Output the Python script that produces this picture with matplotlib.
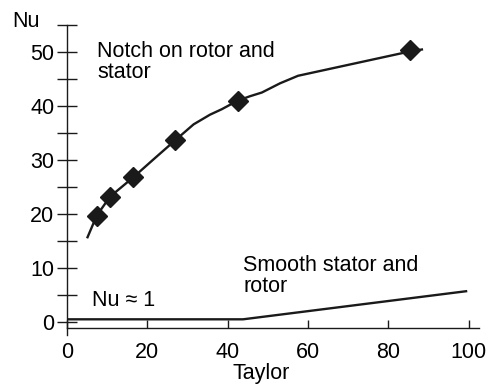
import matplotlib.pyplot as plt

plt.rcParams['font.family'] = ['Liberation Sans', 'DejaVu Sans']

# Notched rotor and stator: measured points
notchTaylor = [7.4, 10.7, 16.5, 27.0, 42.5, 85.3]
notchNu = [19.7, 23.2, 26.8, 33.7, 41.0, 50.4]

# Curve drawn through the measurements
curveTaylor = [5.0, 7.4, 10.7, 16.5, 21.8, 27.0, 31.5, 35.6, 38.5, 42.5, 45.5, 48.5, 53.0, 57.5, 85.3, 88.6]
curveNu = [15.5, 19.7, 23.2, 26.8, 30.3, 33.7, 36.6, 38.4, 39.4, 41.0, 41.8, 42.5, 44.2, 45.6, 50.1, 50.5]

# Smooth stator and rotor
smoothTaylor = [0.0, 43.8, 99.3]
smoothNu = [0.5, 0.5, 5.7]

xTicks = [0, 20, 40, 60, 80, 100]
yTicks = [0, 5, 10, 15, 20, 25, 30, 35, 40, 45, 50, 55]
yTickLabels = ['0', '', '10', '', '20', '', '30', '', '40', '', '50', '']

fs = 15.5
fig = plt.figure(figsize=(4.9, 3.86), dpi=100)
ax = fig.add_axes([0.1367, 0.1238, 0.853, 0.8394])
ax.set_xlim(0, 104)
ax.set_ylim(-3, 57)

lineColor = '#1a1a1a'
ax.plot(curveTaylor, curveNu, color=lineColor, lw=1.7, solid_capstyle='butt')
ax.plot(notchTaylor, notchNu, linestyle='none', marker='D', ms=10, color=lineColor)
ax.plot(smoothTaylor, smoothNu, color=lineColor, lw=1.7)

# Axes styling
for side in ['top', 'right']:
    ax.spines[side].set_visible(False)
ax.spines['bottom'].set_position(('data', -1.1))
ax.spines['bottom'].set_bounds(0, 102.5)
ax.spines['left'].set_bounds(-2.4, 55)
for side in ['left', 'bottom']:
    ax.spines[side].set_linewidth(1.0)
    ax.spines[side].set_color(lineColor)

ax.set_xticks(xTicks)
ax.set_yticks(yTicks)
ax.set_yticklabels(yTickLabels)
ax.tick_params(axis='y', direction='inout', length=14, width=1.0, pad=2, labelsize=fs, color=lineColor)
ax.tick_params(axis='x', direction='in', length=6, width=1.0, pad=10, labelsize=fs, color=lineColor)

ax.set_ylabel('Nu', rotation=0, fontsize=fs, ha='left', va='baseline')
ax.yaxis.set_label_coords(-0.1316, 0.96)
ax.set_xlabel('Taylor', fontsize=fs, ha='center', va='baseline')
ax.xaxis.set_label_coords(0.465, -0.125)

# Annotations (baseline = last line)
ax.text(7.5, 45.1, 'Notch on rotor and\nstator', fontsize=fs, ha='left', va='baseline', linespacing=1.0)
ax.text(6.2, 3.0, 'Nu \u2248 1', fontsize=fs, ha='left', va='baseline')
ax.text(43.8, 5.55, 'Smooth stator and\nrotor', fontsize=fs, ha='left', va='baseline', linespacing=1.0)

plt.savefig('out.png', dpi=100)
